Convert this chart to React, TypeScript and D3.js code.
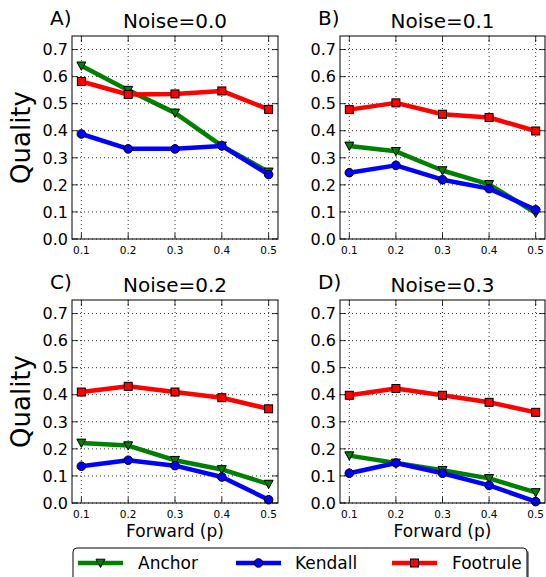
import React from "react";
import * as d3 from "d3";

const forwardP = [0.1, 0.2, 0.3, 0.4, 0.5];
const yTicks = [0, 0.1, 0.2, 0.3, 0.4, 0.5, 0.6, 0.7];
const seriesNames = ["Anchor", "Kendall", "Footrule"];
const seriesColors = ["#008000", "#0000ff", "#ff0000"];
const panelLetters = ["A)", "B)", "C)", "D)"];
const panelTitles = ["Noise=0.0", "Noise=0.1", "Noise=0.2", "Noise=0.3"];

const anchorN0 = [0.64, 0.55, 0.466, 0.344, 0.248];
const kendallN0 = [0.388, 0.333, 0.333, 0.344, 0.238];
const footruleN0 = [0.582, 0.534, 0.536, 0.547, 0.479];

const anchorN1 = [0.344, 0.324, 0.253, 0.202, 0.096];
const kendallN1 = [0.245, 0.272, 0.219, 0.186, 0.108];
const footruleN1 = [0.478, 0.503, 0.461, 0.449, 0.399];

const anchorN2 = [0.222, 0.212, 0.158, 0.124, 0.07];
const kendallN2 = [0.136, 0.158, 0.138, 0.096, 0.012];
const footruleN2 = [0.41, 0.431, 0.41, 0.389, 0.348];

const anchorN3 = [0.175, 0.148, 0.121, 0.091, 0.039];
const kendallN3 = [0.11, 0.148, 0.11, 0.065, 0.005];
const footruleN3 = [0.398, 0.423, 0.398, 0.372, 0.335];

const panelData = [
  [anchorN0, kendallN0, footruleN0],
  [anchorN1, kendallN1, footruleN1],
  [anchorN2, kendallN2, footruleN2],
  [anchorN3, kendallN3, footruleN3],
];

const FONT = "DejaVu Sans, Verdana, sans-serif";

const boxes = [
  { x0: 72, x1: 278, y0: 36, y1: 239 },
  { x0: 340, x1: 545, y0: 36, y1: 239 },
  { x0: 72, x1: 278, y0: 300, y1: 503 },
  { x0: 340, x1: 545, y0: 300, y1: 503 },
];

function Marker({ kind, x, y, color }: { kind: number; x: number; y: number; color: string }) {
  if (kind === 0) {
    return (
      <path
        d={`M${x - 4.5},${y - 3.8} L${x + 4.5},${y - 3.8} L${x},${y + 4.5} Z`}
        fill={color}
        stroke="#000"
        strokeWidth={1}
      />
    );
  }
  if (kind === 1) {
    return <circle cx={x} cy={y} r={4.3} fill={color} stroke="#000" strokeWidth={1} />;
  }
  return <rect x={x - 4} y={y - 4} width={8} height={8} fill={color} stroke="#000" strokeWidth={1} />;
}

function Panel({ idx }: { idx: number }) {
  const b = boxes[idx];
  const x = d3.scaleLinear().domain([0.08, 0.52]).range([b.x0, b.x1]);
  const y = d3.scaleLinear().domain([0, 0.75]).range([b.y1, b.y0]);
  const line = d3
    .line<number>()
    .x((_, i) => x(forwardP[i]))
    .y((d) => y(d));
  const series = panelData[idx];
  const cx = (b.x0 + b.x1) / 2;
  const cy = (b.y0 + b.y1) / 2;
  const tl = 6;
  return (
    <g>
      {forwardP.map((t) => (
        <line
          key={"gx" + t}
          x1={x(t)}
          x2={x(t)}
          y1={b.y0}
          y2={b.y1}
          stroke="#000"
          strokeWidth={0.8}
          strokeDasharray="1,3"
        />
      ))}
      {yTicks.map((t) => (
        <line
          key={"gy" + t}
          x1={b.x0}
          x2={b.x1}
          y1={y(t)}
          y2={y(t)}
          stroke="#000"
          strokeWidth={0.8}
          strokeDasharray="1,3"
        />
      ))}
      {forwardP.map((t) => (
        <g key={"tx" + t}>
          <line x1={x(t)} x2={x(t)} y1={b.y1} y2={b.y1 - tl} stroke="#000" strokeWidth={0.8} />
          <line x1={x(t)} x2={x(t)} y1={b.y0} y2={b.y0 + tl} stroke="#000" strokeWidth={0.8} />
          <text
            x={x(t)}
            y={b.y1 + 15}
            textAnchor="middle"
            fontSize={10.5}
            fontFamily={FONT}
            fill="#000"
          >
            {t.toFixed(1)}
          </text>
        </g>
      ))}
      {yTicks.map((t) => (
        <g key={"ty" + t}>
          <line x1={b.x0} x2={b.x0 + tl} y1={y(t)} y2={y(t)} stroke="#000" strokeWidth={0.8} />
          <line x1={b.x1} x2={b.x1 - tl} y1={y(t)} y2={y(t)} stroke="#000" strokeWidth={0.8} />
          <text
            x={b.x0 - 4}
            y={y(t)}
            dy="0.36em"
            textAnchor="end"
            fontSize={16}
            fontFamily={FONT}
            fill="#000"
          >
            {t.toFixed(1)}
          </text>
        </g>
      ))}
      <g>
        {series.map((vals, si) => (
          <g key={"s" + si}>
            <path
              d={line(vals) || ""}
              fill="none"
              stroke={seriesColors[si]}
              strokeWidth={4.5}
              strokeLinejoin="round"
            />
            {vals.map((v, i) => (
              <Marker key={i} kind={si} x={x(forwardP[i])} y={y(v)} color={seriesColors[si]} />
            ))}
          </g>
        ))}
      </g>
      <rect
        x={b.x0}
        y={b.y0}
        width={b.x1 - b.x0}
        height={b.y1 - b.y0}
        fill="none"
        stroke="#000"
        strokeWidth={1}
      />
      <text x={cx} y={b.y0 - 8} textAnchor="middle" fontSize={20} fontFamily={FONT} fill="#000">
        {panelTitles[idx]}
      </text>
      <text x={b.x0 - 22} y={b.y0 - 11} textAnchor="start" fontSize={20} fontFamily={FONT} fill="#000">
        {panelLetters[idx]}
      </text>
      {idx % 2 === 0 && (
        <text
          transform={`translate(30,${cy}) rotate(-90)`}
          textAnchor="middle"
          fontSize={26}
          fontFamily={FONT}
          fill="#000"
        >
          Quality
        </text>
      )}
      {idx >= 2 && (
        <text x={cx} y={b.y1 + 34} textAnchor="middle" fontSize={17} fontFamily={FONT} fill="#000">
          Forward (p)
        </text>
      )}
    </g>
  );
}

function Legend() {
  const lx = 73;
  const ly = 548;
  const w = 454;
  const h = 40;
  const entries = [
    { x: 78, tx: 138 },
    { x: 236, tx: 295 },
    { x: 392, tx: 452 },
  ];
  return (
    <g>
      <rect x={lx + 2} y={ly + 2} width={w} height={h} rx={4} fill="#888" />
      <rect x={lx} y={ly} width={w} height={h} rx={4} fill="#fff" stroke="#000" strokeWidth={1} />
      {entries.map((e, i) => (
        <g key={i}>
          <line x1={e.x} x2={e.x + 45} y1={563} y2={563} stroke={seriesColors[i]} strokeWidth={4.5} />
          <Marker kind={i} x={e.x + 22.5} y={563} color={seriesColors[i]} />
          <text x={e.tx} y={563} dy="0.36em" fontSize={17} fontFamily={FONT} fill="#000">
            {seriesNames[i]}
          </text>
        </g>
      ))}
    </g>
  );
}

export default function App() {
  return (
    <svg
      width={546}
      height={577}
      style={{ position: "absolute", left: 0, top: 0, background: "#fff" }}
    >
      <rect x={0} y={0} width={546} height={577} fill="#fff" />
      {[0, 1, 2, 3].map((i) => (
        <Panel key={i} idx={i} />
      ))}
      <Legend />
    </svg>
  );
}
